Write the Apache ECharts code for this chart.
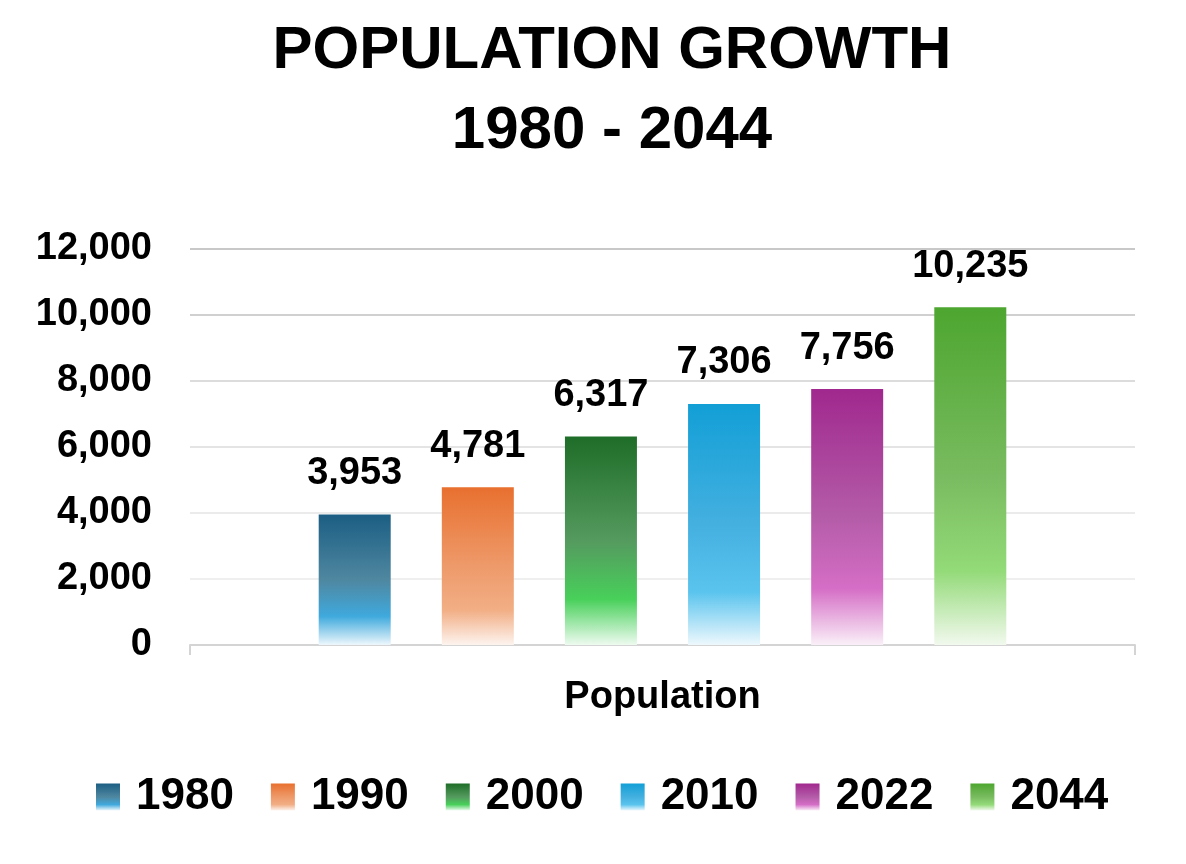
<!DOCTYPE html>
<html>
<head>
<meta charset="utf-8">
<script src="https://cdn.jsdelivr.net/npm/echarts@6/dist/echarts.min.js"></script>
<style>
html,body{margin:0;padding:0;background:#fff;}
#chart{width:1186px;height:864px;}
</style>
</head>
<body>
<div id="chart"></div>
<script>
const categories = ['Population'];
const seriesNames = ['1980', '1990', '2000', '2010', '2022', '2044'];
const seriesValues = [3953, 4781, 6317, 7306, 7756, 10235];
const yTicks = [0, 2000, 4000, 6000, 8000, 10000, 12000];

const gradStops = [
  ['#1b5e83', '#4f87a0', '#3fa9dd', '#eef7fc'],
  ['#e8702f', '#ee9a6a', '#f2ae85', '#fdf4ef'],
  ['#1e6d28', '#559a5f', '#48d05a', '#eefbf0'],
  ['#129fd6', '#44b0e0', '#5ac4ee', '#eef8fd'],
  ['#a0288e', '#b45ca8', '#d56ec6', '#faf0f8'],
  ['#4da62f', '#79bb60', '#93da78', '#f2f9ee']
];
function grad(c) {
  return new echarts.graphic.LinearGradient(0, 0, 0, 1, [
    {offset: 0, color: c[0]},
    {offset: 0.5, color: c[1]},
    {offset: 0.78, color: c[2]},
    {offset: 1, color: c[3]}
  ]);
}
const FONT = '"Liberation Sans", Arial, sans-serif';
const chart = echarts.init(document.getElementById('chart'));
const series = seriesNames.map((n, i) => ({
  name: n,
  type: 'bar',
  data: [seriesValues[i]],
  barWidth: 72,
  barGap: '71%',
  itemStyle: {color: grad(gradStops[i])},
  label: {
    show: true,
    position: 'top',
    distance: 22,
    fontFamily: FONT,
    fontWeight: 'bold',
    fontSize: 38,
    color: '#000',
    formatter: p => p.value.toLocaleString('en-US')
  }
}));
chart.setOption({
  animation: false,
  backgroundColor: '#fff',
  title: {
    text: 'POPULATION GROWTH\n1980 - 2044',
    left: 607,
    textAlign: 'center',
    top: 6,
    textStyle: {
      fontFamily: FONT,
      fontWeight: 'bold',
      fontSize: 60,
      lineHeight: 80,
      color: '#000'
    }
  },
  legend: {
    data: seriesNames,
    left: 91,
    top: 770,
    itemWidth: 24,
    itemHeight: 27,
    itemGap: 37,
    icon: 'rect',
    textStyle: {
      fontFamily: FONT,
      fontWeight: 'bold',
      fontSize: 44,
      color: '#000',
      padding: [0, 0, 0, 11]
    }
  },
  grid: {left: 190, right: 51, top: 249, bottom: 219, containLabel: false},
  xAxis: {
    type: 'category',
    data: categories,
    axisLine: {show: true, lineStyle: {color: '#d4d4d4', width: 2}},
    axisTick: {show: true, length: 10, lineStyle: {color: '#d4d4d4', width: 2}},
    axisLabel: {
      margin: 34,
      fontFamily: FONT,
      fontWeight: 'bold',
      fontSize: 38,
      color: '#000'
    }
  },
  yAxis: {
    type: 'value',
    min: yTicks[0],
    max: yTicks[yTicks.length - 1],
    interval: 2000,
    axisLine: {show: false},
    axisTick: {show: false},
    axisLabel: {
      margin: 38,
      fontFamily: FONT,
      fontWeight: 'bold',
      fontSize: 38,
      color: '#000',
      formatter: v => v.toLocaleString('en-US')
    },
    splitLine: {
      show: true,
      lineStyle: {
        width: 2,
        color: ['#d4d4d4', '#efefef', '#ebebeb', '#e4e4e4', '#dcdcdc', '#d0d0d0', '#c8c8c8']
      }
    }
  },
  series: series
});
</script>
</body>
</html>
